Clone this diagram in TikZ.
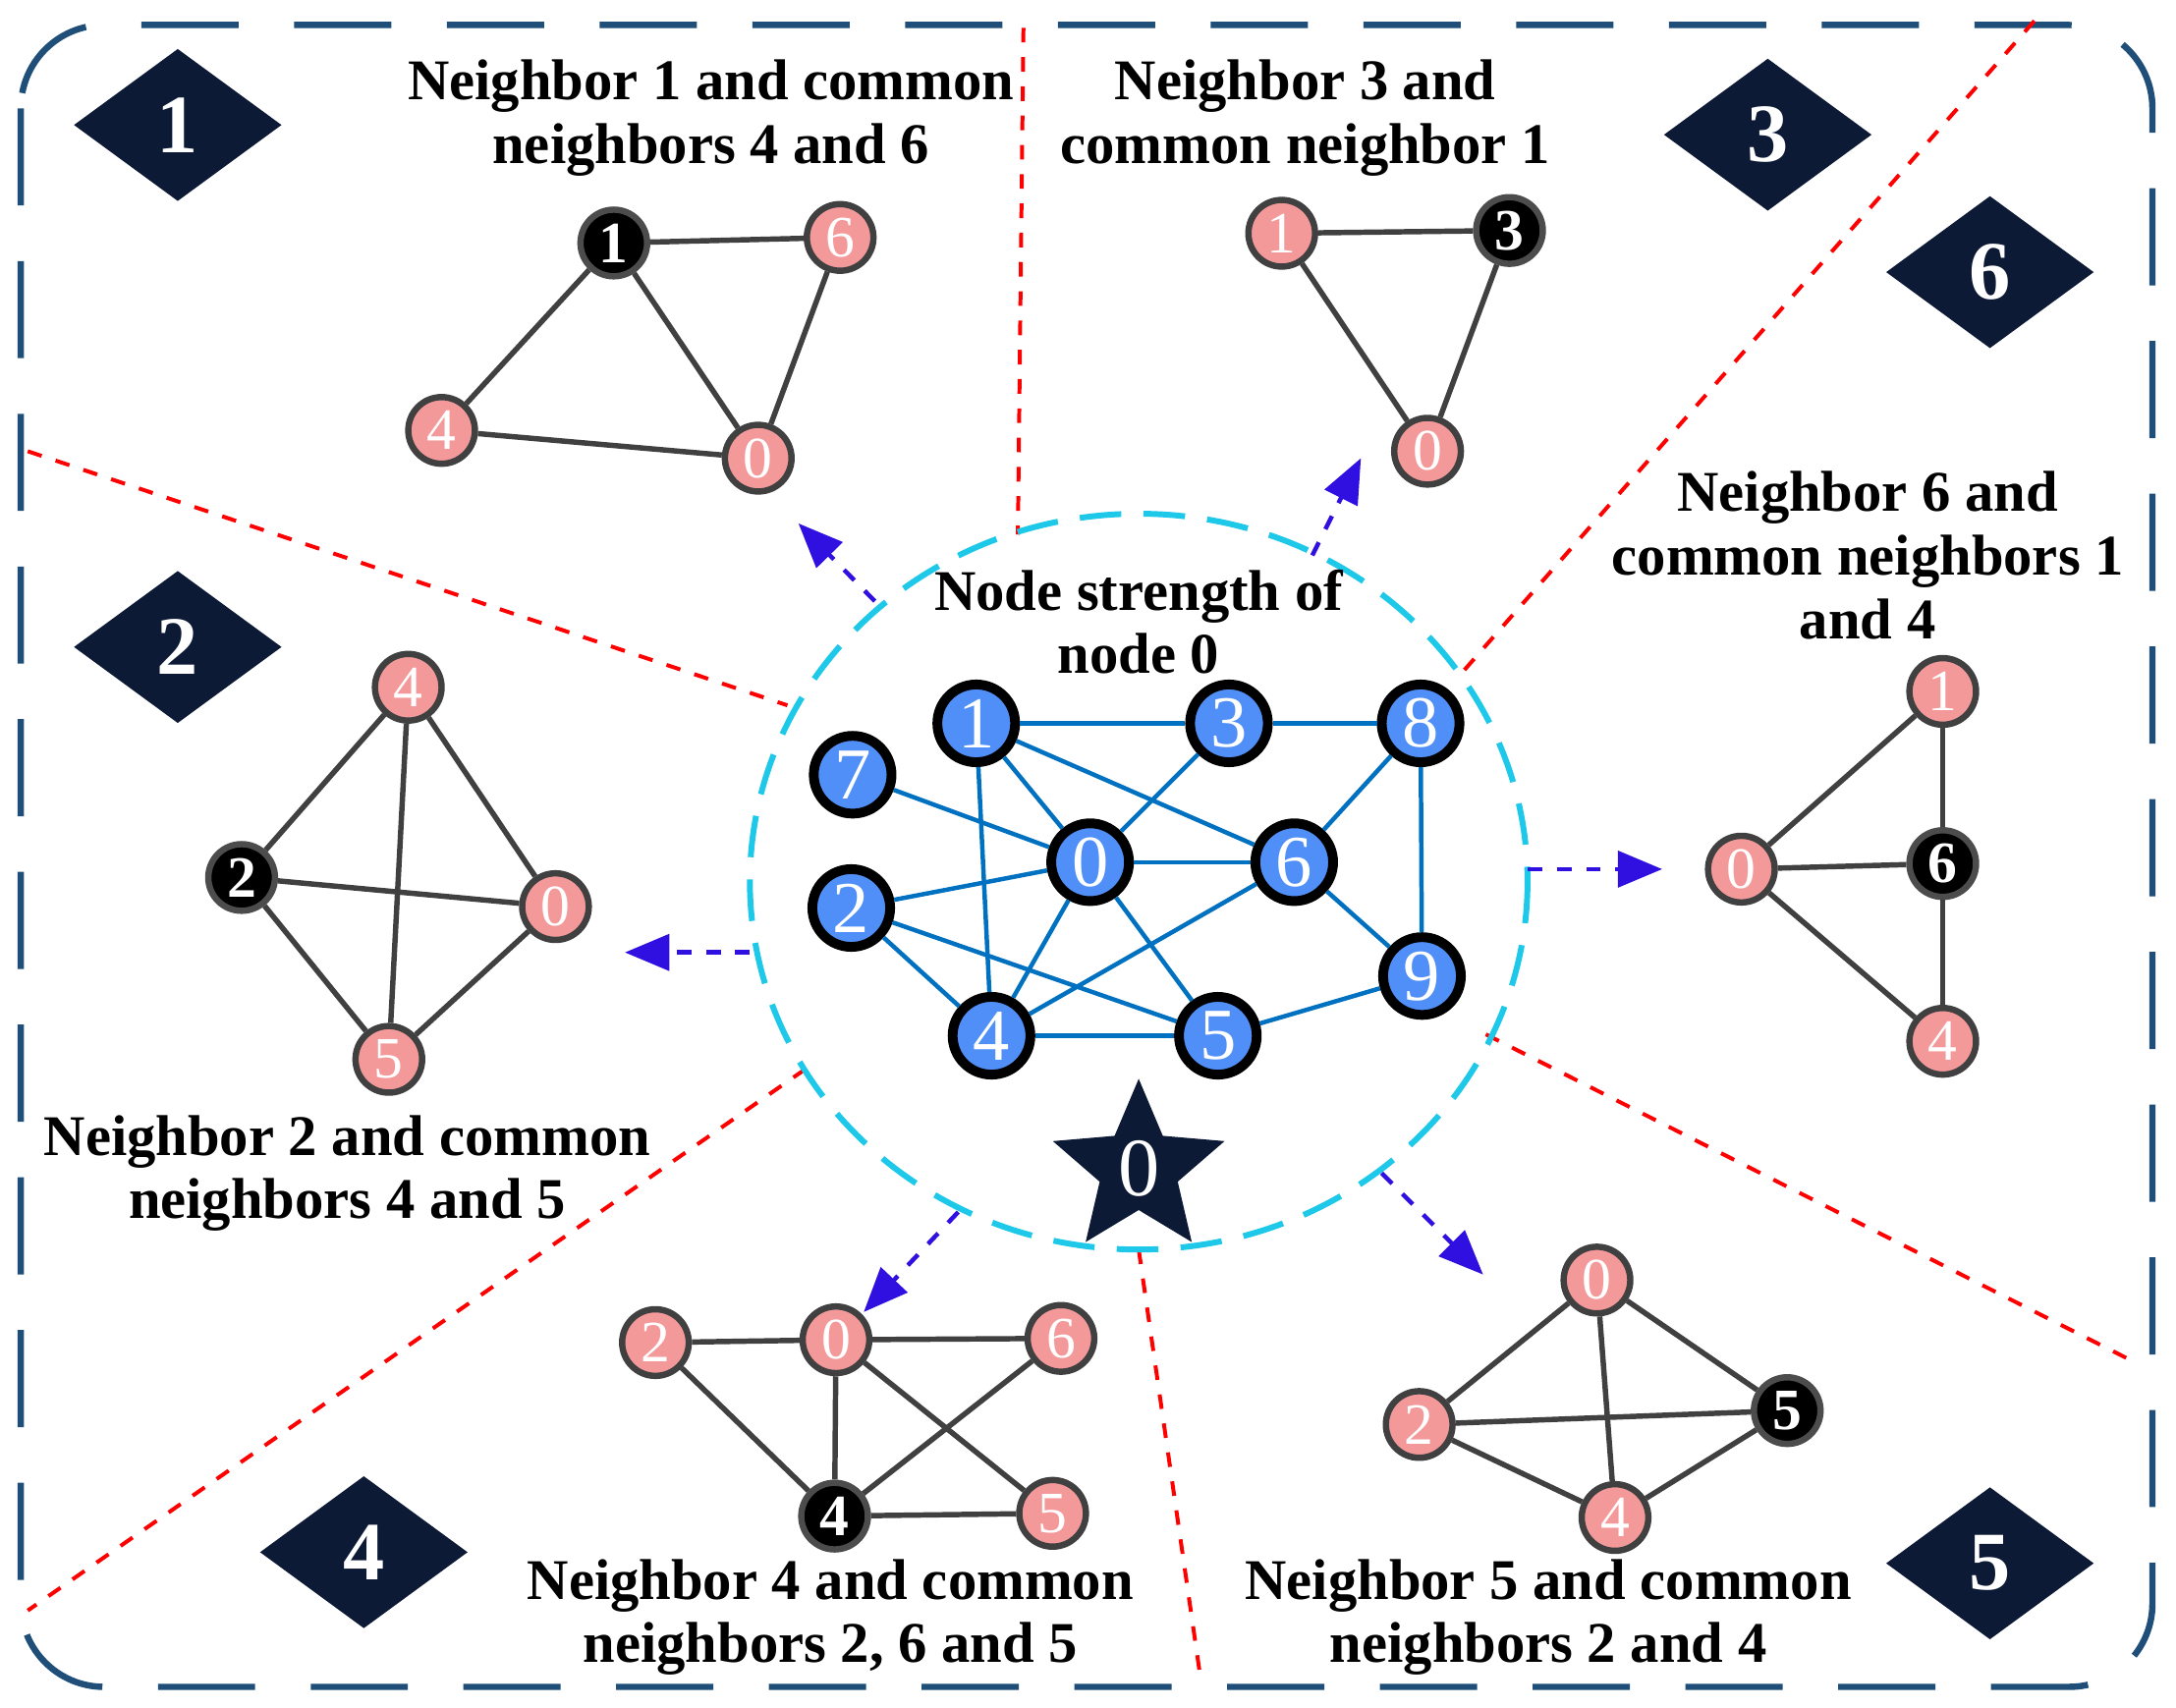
\documentclass[tikz,border=0pt]{standalone}
\usepackage{fontspec}
\setmainfont{Liberation Serif}
\usepackage{tikz}
\usetikzlibrary{shapes.geometric,arrows.meta}
\definecolor{navy}{HTML}{0D1A36}
\definecolor{frameblue}{HTML}{1F4E79}
\definecolor{nodeblue}{HTML}{4F8FF7}
\definecolor{edgeblue}{HTML}{0070C0}
\definecolor{pinkfill}{HTML}{F4999A}
\definecolor{arrowviolet}{HTML}{3010E0}
\definecolor{ringcyan}{HTML}{1EC8E8}
\begin{document}
\begin{tikzpicture}[x=0.1mm,y=-0.1mm,
    bnode/.style={circle, draw=black, line width=2pt, fill=nodeblue, text=white, minimum size=5.6mm, inner sep=0pt, font=\fontsize{15}{15}\selectfont},
    pnode/.style={circle, draw=black!75, line width=1.3pt, fill=pinkfill, text=white, minimum size=4.8mm, inner sep=0pt, font=\fontsize{12}{12}\selectfont},
    knode/.style={pnode, fill=black, draw=black!70, font=\bfseries\fontsize{12}{12}\selectfont},
    badge/.style={diamond, fill=navy, text=white, minimum width=15mm, minimum height=11mm, inner sep=0pt, aspect=1.4, font=\bfseries\fontsize{17}{17}\selectfont},
    title/.style={align=center, font=\bfseries\fontsize{11.8}{13}\selectfont},
    bedge/.style={edgeblue, line width=0.9pt},
    pedge/.style={black!75, line width=1.1pt},
    split/.style={red, dashed, line width=0.8pt},
    arrow/.style={-{Triangle[length=3.2mm,width=2.6mm]}, arrowviolet, dashed, line width=0.9pt}
    ]
\useasboundingbox (0,0) rectangle (1567,1230);

% Frame and separators
\draw[frameblue, line width=1.3pt, dash pattern=on 7mm off 4mm, rounded corners=6mm] (15,18) rectangle (1550,1215);
\draw[split] (737,20) -- (733,385);
\draw[split] (20,325) -- (567,508);
\draw[split] (1465,15) -- (1048,490);
\draw[split] (1070,745) -- (1535,980);
\draw[split] (820,900) -- (865,1212);
\draw[split] (580,770) -- (20,1160);

% Centre graph
\draw[ringcyan, line width=1.2pt, dash pattern=on 3mm off 1.6mm] (820,635) ellipse [x radius=280, y radius=265];
\node[title] (Centre Title) at (820,448) {Node strength of\\node 0};
\node[bnode] (c1) at (703,521) {1};
\node[bnode] (c3) at (885,521) {3};
\node[bnode] (c8) at (1023,521) {8};
\node[bnode] (c7) at (614,558) {7};
\node[bnode] (c0) at (785,621) {0};
\node[bnode] (c6) at (932,621) {6};
\node[bnode] (c2) at (613,654) {2};
\node[bnode] (c4) at (714,746) {4};
\node[bnode] (c5) at (877,746) {5};
\node[bnode] (c9) at (1024,703) {9};
\foreach \a/\b in {1/3,3/8,1/0,1/6,1/4,7/0,0/3,0/6,6/8,8/9,6/9,0/2,2/4,2/5,0/4,0/5,4/6,4/5,5/9}
    \draw[bedge] (c\a) -- (c\b);
\node[star, star points=5, star point ratio=2.2, fill=navy, text=white, minimum size=13mm, inner sep=0pt, font=\fontsize{17}{17}\selectfont] (Star) at (820,842) {0};

% Badges
\node[badge] (Badge 1) at (128,90) {1};
\node[badge] (Badge 3) at (1273,97) {3};
\node[badge] (Badge 6) at (1433,196) {6};
\node[badge] (Badge 2) at (128,466) {2};
\node[badge] (Badge 4) at (262,1118) {4};
\node[badge] (Badge 5) at (1433,1126) {5};

% Neighbor 1
\node[title] at (512,85) {Neighbor 1 and common\\neighbors 4 and 6};
\node[knode] (a1) at (442,175) {1};
\node[pnode] (a6) at (605,171) {6};
\node[pnode] (a4) at (318,310) {4};
\node[pnode] (a0) at (546,330) {0};
\foreach \a/\b in {1/6,1/4,1/0,6/0,4/0} \draw[pedge] (a\a) -- (a\b);

% Neighbor 3
\node[title] at (940,85) {Neighbor 3 and\\common neighbor 1};
\node[pnode] (b1) at (923,168) {1};
\node[knode] (b3) at (1087,166) {3};
\node[pnode] (b0) at (1028,325) {0};
\foreach \a/\b in {1/3,1/0,3/0} \draw[pedge] (b\a) -- (b\b);

% Neighbor 6
\node[title] at (1345,400) {Neighbor 6 and\\common neighbors 1\\and 4};
\node[pnode] (f1) at (1399,498) {1};
\node[pnode] (f0) at (1254,626) {0};
\node[knode] (f6) at (1399,622) {6};
\node[pnode] (f4) at (1399,750) {4};
\foreach \a/\b in {1/0,1/6,0/6,0/4,6/4} \draw[pedge] (f\a) -- (f\b);

% Neighbor 2
\node[title] at (250,845) {Neighbor 2 and common\\neighbors 4 and 5};
\node[pnode] (d4) at (294,495) {4};
\node[knode] (d2) at (174,632) {2};
\node[pnode] (d0) at (400,653) {0};
\node[pnode] (d5) at (280,763) {5};
\foreach \a/\b in {4/2,4/0,4/5,2/0,2/5,0/5} \draw[pedge] (d\a) -- (d\b);

% Neighbor 4
\node[title] at (598,1165) {Neighbor 4 and common\\neighbors 2, 6 and 5};
\node[pnode] (e2) at (472,967) {2};
\node[pnode] (e0) at (602,965) {0};
\node[pnode] (e6) at (764,964) {6};
\node[knode] (e4) at (601,1092) {4};
\node[pnode] (e5) at (758,1090) {5};
\foreach \a/\b in {2/0,0/6,2/4,0/4,0/5,6/4,4/5} \draw[pedge] (e\a) -- (e\b);

% Neighbor 5
\node[title] at (1115,1165) {Neighbor 5 and common\\neighbors 2 and 4};
\node[pnode] (g0) at (1150,922) {0};
\node[pnode] (g2) at (1022,1026) {2};
\node[knode] (g5) at (1287,1016) {5};
\node[pnode] (g4) at (1163,1093) {4};
\foreach \a/\b in {0/2,0/5,0/4,2/5,2/4,4/5} \draw[pedge] (g\a) -- (g\b);

% Arrows out of the circle
\coordinate (o1) at (630,433); \coordinate (t1) at (575,377);
\coordinate (o3) at (945,400); \coordinate (t3) at (980,330);
\coordinate (o6) at (1100,626); \coordinate (t6) at (1197,626);
\coordinate (o2) at (540,686); \coordinate (t2) at (450,686);
\coordinate (o4) at (690,873); \coordinate (t4) at (622,945);
\coordinate (o5) at (995,845); \coordinate (t5) at (1068,918);
\foreach \k in {1,3,6,2,4,5} \draw[arrow] (o\k) -- (t\k);

\end{tikzpicture}
\end{document}
